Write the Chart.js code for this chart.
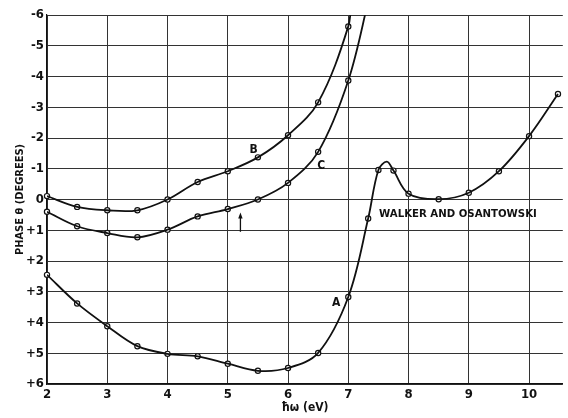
<!DOCTYPE html>
<html>
<head>
<meta charset="utf-8">
<script src="https://cdn.jsdelivr.net/npm/chart.js@4.4.1/dist/chart.umd.min.js"></script>
<style>
html,body{margin:0;padding:0;background:#fff;}
#wrap{width:568px;height:418px;position:relative;}
</style>
</head>
<body>
<div id="wrap"><canvas id="c" width="568" height="418"></canvas></div>
<script>
// Measured points (circles) for each curve
const xA = [2, 2.5, 3, 3.5, 4, 4.5, 5, 5.5, 6, 6.5, 7, 7.33, 7.5, 7.75, 8, 8.5, 9, 9.5, 10, 10.48];
const yA = [2.45, 3.38, 4.12, 4.77, 5.02, 5.1, 5.34, 5.57, 5.48, 4.99, 3.17, 0.62, -0.96, -0.94, -0.19, -0.01, -0.22, -0.92, -2.06, -3.43];
const xB = [2, 2.5, 3, 3.5, 4, 4.5, 5, 5.5, 6, 6.5, 7];
const yB = [-0.11, 0.24, 0.35, 0.35, 0, -0.57, -0.92, -1.37, -2.09, -3.16, -5.63];
const xC = [2, 2.5, 3, 3.5, 4, 4.5, 5, 5.5, 6, 6.5, 7];
const yC = [0.4, 0.87, 1.09, 1.23, 0.98, 0.55, 0.31, 0.0, -0.54, -1.55, -3.87];
// Extra curve points (no circle): peak of A, exits of B and C above -6
const xAcurve = [7.64];
const yAcurve = [-1.23];
const xBcurve = [7.05];
const yBcurve = [-6.6];
const xCcurve = [7.35];
const yCcurve = [-6.6];
// Axis ticks
const xTicks = [2, 3, 4, 5, 6, 7, 8, 9, 10];
const yTicks = [-6, -5, -4, -3, -2, -1, 0, 1, 2, 3, 4, 5, 6];

function pts(xs, ys) { return xs.map((x, i) => ({x: x, y: ys[i]})); }
function merged(xs, ys, xe, ye) {
  return pts(xs, ys).concat(pts(xe, ye)).sort((a, b) => a.x - b.x);
}

const FONT = "'DejaVu Sans Condensed', 'DejaVu Sans', sans-serif";
const INK = '#111';

function lineDs(data) {
  return {type: 'line', data: data, borderColor: INK, borderWidth: 1.8, pointRadius: 0,
    tension: 0.35, fill: false};
}
function markDs(data) {
  return {type: 'scatter', data: data, showLine: false, pointRadius: 2.6, pointBorderWidth: 1.2,
    pointBackgroundColor: '#fff', pointBorderColor: INK, clip: false};
}

const annot = {
  id: 'annot',
  afterDatasetsDraw(chart) {
    const ctx = chart.ctx, xs = chart.scales.x, ys = chart.scales.y;
    const X = v => xs.getPixelForValue(v), Y = v => ys.getPixelForValue(v);
    ctx.save();
    ctx.fillStyle = INK;
    ctx.textAlign = 'center';
    ctx.textBaseline = 'middle';
    ctx.font = "bold 12px " + FONT;
    ctx.fillText('B', X(5.43), Y(-1.6));
    ctx.fillText('C', X(6.55), Y(-1.08));
    ctx.fillText('A', X(6.8), Y(3.37));
    ctx.font = "bold 11.3px " + FONT;
    ctx.fillText('WALKER AND OSANTOWSKI', X(8.82), Y(0.46));
    // arrow
    const ax = X(5.21), y0 = Y(1.05), y1 = Y(0.42);
    ctx.strokeStyle = INK; ctx.lineWidth = 1.3;
    ctx.beginPath(); ctx.moveTo(ax, y0); ctx.lineTo(ax, y1 + 3); ctx.stroke();
    ctx.beginPath(); ctx.moveTo(ax, y1); ctx.lineTo(ax - 2.2, y1 + 6); ctx.lineTo(ax + 2.2, y1 + 6); ctx.closePath(); ctx.fill();
    ctx.restore();
  }
};

new Chart(document.getElementById('c'), {
  data: {
    datasets: [
      lineDs(merged(xA, yA, xAcurve, yAcurve)),
      lineDs(merged(xB, yB, xBcurve, yBcurve)),
      lineDs(merged(xC, yC, xCcurve, yCcurve)),
      markDs(pts(xA, yA)),
      markDs(pts(xB, yB)),
      markDs(pts(xC, yC))
    ]
  },
  options: {
    responsive: false,
    animation: false,
    devicePixelRatio: 1,
    layout: {padding: {top: 15, left: 0, right: 0, bottom: 0}},
    plugins: {legend: {display: false}, tooltip: {enabled: false}},
    scales: {
      x: {
        type: 'linear', min: 2, max: 10.56,
        afterFit(s) { s.height = 34; },
        afterBuildTicks(s) { s.ticks = xTicks.map(v => ({value: v})); },
        grid: {color: '#333', lineWidth: 1, drawTicks: false},
        border: {color: '#111', width: 1.2},
        ticks: {includeBounds: false, stepSize: 1, padding: 3, color: INK,
          font: {family: FONT, size: 13, weight: 'bold'}},
        title: {display: true, text: 'ħω (eV)', color: INK, padding: {top: 0, bottom: 3},
          font: {family: FONT, size: 12, weight: 'bold'}}
      },
      y: {
        type: 'linear', min: -6, max: 6, reverse: true,
        afterFit(s) { s.width = 47; },
        afterBuildTicks(s) { s.ticks = yTicks.map(v => ({value: v})); },
        grid: {color: '#333', lineWidth: 1, drawTicks: false},
        border: {color: '#111', width: 1.2},
        ticks: {stepSize: 1, padding: 3, color: INK,
          font: {family: FONT, size: 13, weight: 'bold'},
          callback: v => (v > 0 ? '+' + v : String(v))},
        title: {display: true, text: 'PHASE θ (DEGREES)', color: INK, padding: {top: 14, bottom: 0},
          font: {family: FONT, size: 11, weight: 'bold'}}
      }
    }
  },
  plugins: [annot]
});
</script>
</body>
</html>
